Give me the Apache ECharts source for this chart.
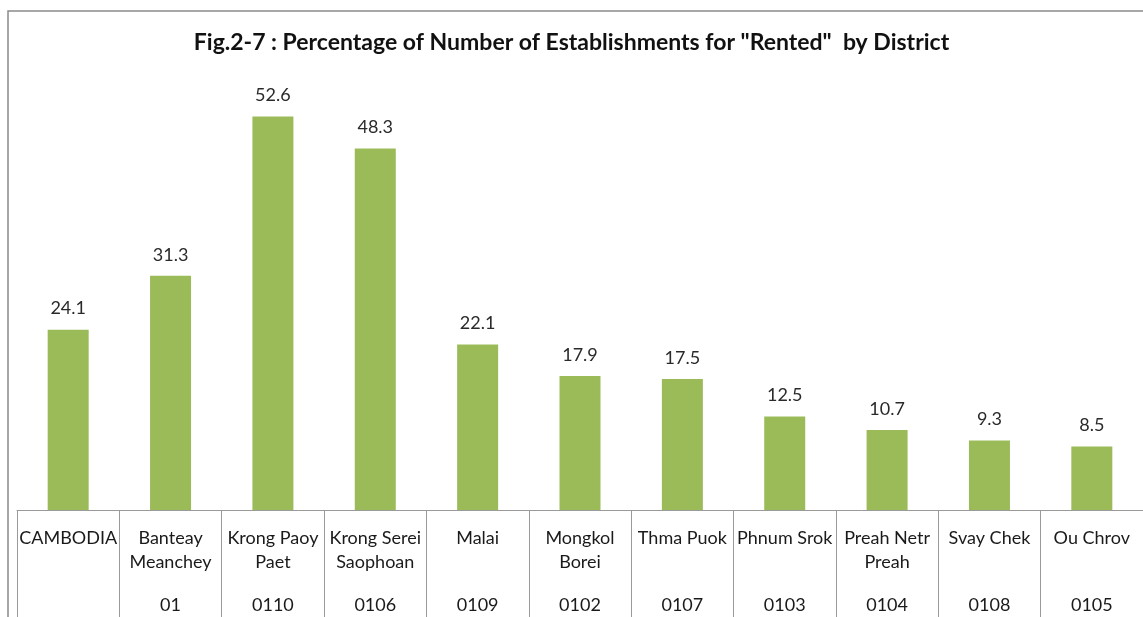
<!DOCTYPE html>
<html><head><meta charset="utf-8">
<script src="https://cdn.jsdelivr.net/npm/echarts@6/dist/echarts.min.js"></script>
<style>html,body{margin:0;padding:0;background:#fff}#c{width:1143px;height:617px}</style>
</head><body><div id="c"></div>
<script>
const titleText = 'Fig.2-7 : Percentage of Number of Establishments for "Rented"  by District';
const districtNames = [
  ['CAMBODIA', ''],
  ['Banteay', 'Meanchey'],
  ['Krong Paoy', 'Paet'],
  ['Krong Serei', 'Saophoan'],
  ['Malai', ''],
  ['Mongkol', 'Borei'],
  ['Thma Puok', ''],
  ['Phnum Srok', ''],
  ['Preah Netr', 'Preah'],
  ['Svay Chek', ''],
  ['Ou Chrov', '']
];
const districtCodes = ['', '01', '0110', '0106', '0109', '0102', '0107', '0103', '0104', '0108', '0105'];
const rentedPct = [24.1, 31.3, 52.6, 48.3, 22.1, 17.9, 17.5, 12.5, 10.7, 9.3, 8.5];

const categories = districtNames.map((n, i) => i);
const font = 'Lato, "Liberation Sans", sans-serif';
const chart = echarts.init(document.getElementById('c'), null, {renderer: 'canvas'});
chart.setOption({
  backgroundColor: '#fff',
  animation: false,
  title: {
    text: titleText, left: 'center', top: 26,
    textStyle: {fontFamily: font, fontWeight: 'bold', fontSize: 23, color: '#111'}
  },
  graphic: [{
    type: 'rect', shape: {x: 8, y: 11, width: 1160, height: 640},
    style: {fill: 'none', stroke: '#8a8a8a', lineWidth: 1.5}, silent: true
  }],
  grid: {left: 17, right: -4, top: 61, bottom: 107},
  xAxis: {
    type: 'category', data: categories, boundaryGap: true,
    axisLine: {lineStyle: {color: '#9a9a9a', width: 1}},
    axisTick: {show: true, length: 115, interval: 0, lineStyle: {color: '#9a9a9a'}},
    axisLabel: {
      interval: 0, margin: 16,
      formatter: function (v) {
        const i = +v;
        const n = districtNames[i];
        return '{n|' + n[0] + '}\n{n|' + (n[1] || ' ') + '}\n{c|' + (districtCodes[i] || ' ') + '}';
      },
      rich: {
        n: {fontFamily: font, fontSize: 18, color: '#1a1a1a', lineHeight: 24},
        c: {fontFamily: font, fontSize: 18, color: '#1a1a1a', lineHeight: 62}
      }
    }
  },
  yAxis: {type: 'value', min: 0, max: 60, show: false, splitLine: {show: false}},
  series: [{
    type: 'bar', data: rentedPct, barWidth: 41,
    itemStyle: {color: '#9bbb59'},
    label: {
      show: true, position: 'top', distance: 12,
      fontFamily: font, fontSize: 18, color: '#2a2a2a',
      formatter: p => p.value.toFixed(1)
    }
  }]
});
</script></body></html>
